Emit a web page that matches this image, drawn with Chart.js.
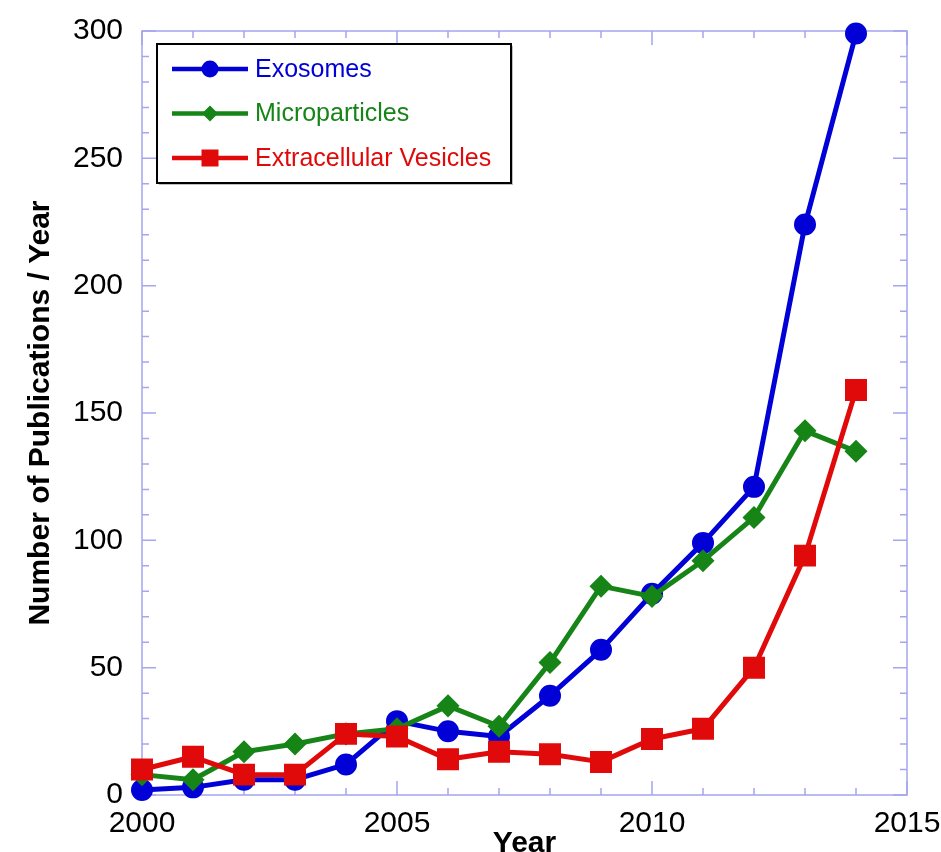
<!DOCTYPE html>
<html lang="en">
<head>
<meta charset="UTF-8">
<title>Publications per year</title>
<script src="https://cdn.jsdelivr.net/npm/chart.js@4/dist/chart.umd.min.js"></script>
<style>
  html, body { margin: 0; padding: 0; background: #fff; }
  #wrap { width: 941px; height: 852px; }
</style>
</head>
<body>
<div id="wrap"><canvas id="canvas" width="941" height="852"></canvas></div>
<script>
    const years = [2000, 2001, 2002, 2003, 2004, 2005, 2006, 2007, 2008, 2009, 2010, 2011, 2012, 2013, 2014];
    const exosomes = [2, 3, 6, 6, 12, 29, 25, 23, 39, 57, 79, 99, 121, 224, 299];
    const microparticles = [8, 6, 17, 20, 24, 26, 35, 27, 52, 82, 78, 92, 109, 143, 135];
    const vesicles = [10, 15, 8, 8, 24, 23, 14, 17, 16, 13, 22, 26, 50, 94, 159];
    const xTicks = [2000, 2005, 2010, 2015];
    const yTicks = [0, 50, 100, 150, 200, 250, 300];

    const FONT = "'Liberation Sans', Arial, Helvetica, sans-serif";
    const FRAME = 'rgb(165,165,240)';

    function pairs(values) {
        return values.map((v, i) => ({x: years[i], y: v}));
    }

    // frame with inward ticks on all four sides
    const framePlugin = {
        id: 'frame',
        beforeDatasetsDraw(chart) {
            const ctx = chart.ctx;
            const a = chart.chartArea;
            const xs = chart.scales.x, ys = chart.scales.y;
            ctx.save();
            ctx.strokeStyle = FRAME;
            ctx.lineWidth = 1.5;
            ctx.strokeRect(a.left, a.top, a.right - a.left, a.bottom - a.top);
            ctx.beginPath();
            for (let yr = 2000; yr <= 2015; yr++) {
                const px = xs.getPixelForValue(yr);
                const len = yr % 5 === 0 ? 14 : 7;
                ctx.moveTo(px, a.bottom); ctx.lineTo(px, a.bottom - len);
                ctx.moveTo(px, a.top); ctx.lineTo(px, a.top + len);
            }
            for (let v = 0; v <= 300; v += 10) {
                const py = ys.getPixelForValue(v);
                const len = v % 50 === 0 ? 14 : 7;
                ctx.moveTo(a.left, py); ctx.lineTo(a.left + len, py);
                ctx.moveTo(a.right, py); ctx.lineTo(a.right - len, py);
            }
            ctx.stroke();
            ctx.restore();
        }
    };

    function marker(ctx, style, x, y, color) {
        ctx.fillStyle = color;
        ctx.beginPath();
        if (style === 'circle') {
            ctx.arc(x, y, 8.5, 0, Math.PI * 2);
        } else if (style === 'rectRot') {
            ctx.moveTo(x - 8, y); ctx.lineTo(x, y - 8); ctx.lineTo(x + 8, y); ctx.lineTo(x, y + 8);
            ctx.closePath();
        } else {
            ctx.rect(x - 8.5, y - 8.5, 17, 17);
        }
        ctx.fill();
    }

    // boxed legend in the upper left corner
    const legendPlugin = {
        id: 'boxLegend',
        afterDatasetsDraw(chart) {
            const ctx = chart.ctx;
            const left = 157, top = 44, w = 354, h = 139;
            ctx.save();
            ctx.fillStyle = 'rgba(0,0,0,0.25)';
            ctx.fillRect(left + 2, top + 2, w, h);
            ctx.fillStyle = '#fff';
            ctx.fillRect(left, top, w, h);
            ctx.strokeStyle = '#000';
            ctx.lineWidth = 2;
            ctx.strokeRect(left, top, w, h);
            ctx.font = '25px ' + FONT;
            ctx.textBaseline = 'middle';
            chart.data.datasets.forEach((ds, i) => {
                const y = 69 + i * 44.5;
                ctx.strokeStyle = ds.borderColor;
                ctx.lineWidth = 4.5;
                ctx.beginPath();
                ctx.moveTo(172, y); ctx.lineTo(248, y);
                ctx.stroke();
                marker(ctx, ds.pointStyle, 210, y, ds.borderColor);
                ctx.fillStyle = ds.borderColor;
                ctx.fillText(ds.label, 255, y + 1);
            });
            ctx.restore();
        }
    };

    const blue = 'rgb(0,0,215)';
    const green = 'rgb(22,132,22)';
    const red = 'rgb(225,10,10)';

    new Chart('canvas', {
        type: 'line',
        data: {
            datasets: [
                {
                    label: 'Exosomes',
                    data: pairs(exosomes),
                    borderColor: blue,
                    backgroundColor: blue,
                    pointStyle: 'circle',
                    pointRadius: 8.5,
                    borderWidth: 5,
                    order: 2
                }, {
                    label: 'Microparticles',
                    data: pairs(microparticles),
                    borderColor: green,
                    backgroundColor: green,
                    pointStyle: 'rectRot',
                    pointRadius: 8,
                    borderWidth: 5,
                    order: 1
                }, {
                    label: 'Extracellular Vesicles',
                    data: pairs(vesicles),
                    borderColor: red,
                    backgroundColor: red,
                    pointStyle: 'rect',
                    pointRadius: 12,
                    borderWidth: 5,
                    order: 0
                }
            ]
        },
        options: {
            responsive: false,
            animation: false,
            events: [],
            clip: false,
            layout: {padding: {top: 31, right: 34, bottom: 0, left: 0}},
            elements: {
                line: {tension: 0, borderJoinStyle: 'round'},
                point: {borderWidth: 0}
            },
            plugins: {
                legend: {display: false},
                tooltip: {enabled: false}
            },
            scales: {
                x: {
                    type: 'linear',
                    min: 2000,
                    max: 2015,
                    afterBuildTicks(scale) {
                        scale.ticks = xTicks.map(v => ({value: v}));
                    },
                    afterFit(scale) {
                        scale.height = 57;
                        scale.paddingLeft = 0;
                        scale.paddingRight = 0;
                    },
                    border: {display: false},
                    grid: {display: false, drawTicks: false},
                    ticks: {
                        padding: 11,
                        color: '#000',
                        maxRotation: 0,
                        font: {family: FONT, size: 30},
                        callback: v => String(v)
                    },
                    title: {
                        display: true,
                        text: 'Year',
                        color: '#000',
                        padding: 0,
                        font: {family: FONT, size: 30, weight: 'bold', lineHeight: 0.55}
                    }
                },
                y: {
                    min: 0,
                    max: 300,
                    afterBuildTicks(scale) {
                        scale.ticks = yTicks.map(v => ({value: v}));
                    },
                    afterFit(scale) {
                        scale.width = 142;
                        scale.paddingTop = 0;
                        scale.paddingBottom = 0;
                    },
                    border: {display: false},
                    grid: {display: false, drawTicks: false},
                    ticks: {
                        padding: 19,
                        color: '#000',
                        font: {family: FONT, size: 30},
                        callback: v => String(v)
                    },
                    title: {
                        display: true,
                        text: 'Number of Publications / Year',
                        color: '#000',
                        padding: {top: 26, bottom: 0},
                        font: {family: FONT, size: 30, weight: 'bold', lineHeight: 1}
                    }
                }
            }
        },
        plugins: [framePlugin, legendPlugin]
    });
</script>
</body>
</html>
